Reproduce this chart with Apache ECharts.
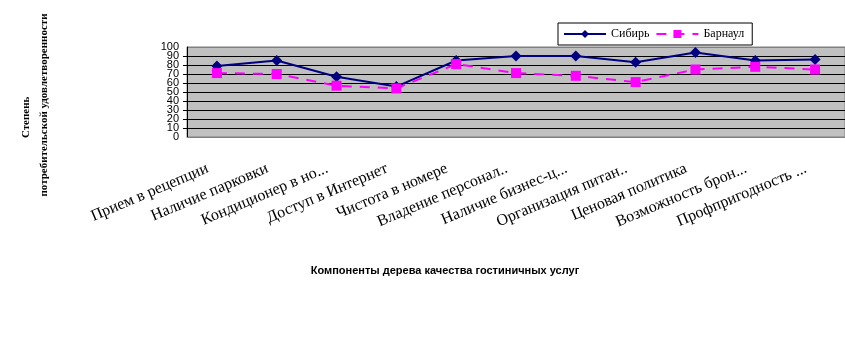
<!DOCTYPE html>
<html><head><meta charset="utf-8">
<script src="https://cdn.jsdelivr.net/npm/echarts@6/dist/echarts.min.js"></script>
<style>html,body{margin:0;padding:0;background:#fff}#c{width:845px;height:346px}</style>
</head><body><div id="c"></div>
<script>
const categories = ['Прием в рецепции','Наличие парковки','Кондиционер в но...','Доступ в Интернет','Чистота в номере','Владение персонал..','Наличие бизнес-ц...','Организация питан..','Ценовая политика','Возможность брон...','Профпригодность ...'];
const sibir = [79, 85, 67, 56, 85, 90, 90, 83, 94, 85, 86];
const barnaul = [71, 70, 57, 54, 81, 71, 68, 61, 75, 78, 75];
const yTicks = [0,10,20,30,40,50,60,70,80,90,100];
const yEndTicks = [0,100];

const chart = echarts.init(document.getElementById('c'));
const splitColors = yTicks.map((t,i)=> (i===0||i===yTicks.length-1) ? '#808080' : '#000000');
const labelFont = {fontFamily:'Liberation Sans',fontSize:11,color:'#000',margin:8};
chart.setOption({
  animation:false,
  backgroundColor:'#ffffff',
  grid:{left:187,right:-11,top:47,bottom:209,show:true,backgroundColor:'#c0c0c0',borderColor:'#808080',borderWidth:1,containLabel:false},
  legend:{
    left:558, top:23,
    padding:[5,8,5,5],
    borderColor:'#000', borderWidth:1, backgroundColor:'#fff', borderRadius:0,
    itemWidth:42, itemHeight:10, itemGap:6,
    textStyle:{fontFamily:'Liberation Serif',fontSize:12,color:'#000'},
    data:['Сибирь','Барнаул']
  },
  xAxis:{
    type:'category', data:categories, boundaryGap:true,
    name:'Компоненты дерева качества гостиничных услуг',
    nameLocation:'middle', nameGap:128,
    nameTextStyle:{fontFamily:'Liberation Sans',fontWeight:'bold',fontSize:11,color:'#000',padding:[0,0,0,-142]},
    axisLine:{show:true,lineStyle:{color:'#808080'}},
    axisTick:{show:false},
    axisLabel:{rotate:23,interval:0,margin:27,padding:[0,10,0,0],fontFamily:'Liberation Serif',fontSize:16,color:'#000'}
  },
  yAxis:[{
    type:'value', min:yTicks[0], max:yTicks[yTicks.length-1], interval:10,
    name:'Степень         \nпотребительской удовлетворенности',
    nameLocation:'middle', nameGap:134, nameRotate:90,
    nameTextStyle:{fontFamily:'Liberation Serif',fontWeight:'bold',fontSize:11,color:'#000',lineHeight:18,padding:[0,0,0,-26]},
    axisLine:{show:true,lineStyle:{color:'#000'}},
    axisTick:{show:true,length:4,inside:false,lineStyle:{color:'#000'}},
    axisLabel:Object.assign({showMinLabel:false,showMaxLabel:false},labelFont),
    splitLine:{show:true,lineStyle:{color:splitColors,width:1}}
  },{
    type:'value', min:yTicks[0], max:yTicks[yTicks.length-1], interval:10, position:'left', offset:0,
    axisLine:{show:false}, axisTick:{show:false}, splitLine:{show:false},
    axisLabel:Object.assign({customValues:yEndTicks,showMinLabel:true,showMaxLabel:true},labelFont)
  }],
  series:[
    {name:'Сибирь',type:'line',data:sibir,symbol:'diamond',symbolSize:11,
     lineStyle:{color:'#000080',width:2},itemStyle:{color:'#000080'}},
    {name:'Барнаул',type:'line',data:barnaul,symbol:'rect',symbolSize:10,
     lineStyle:{color:'#ff00ff',width:2,type:[10,8]},itemStyle:{color:'#ff00ff'}}
  ]
});
</script></body></html>
